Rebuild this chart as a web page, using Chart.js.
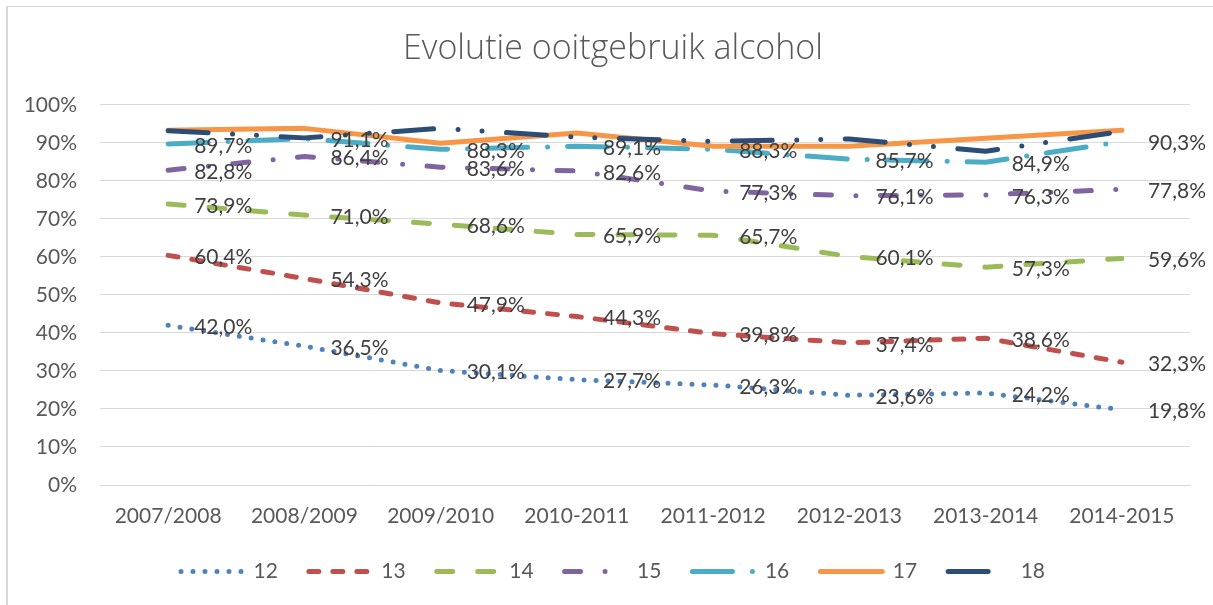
<!DOCTYPE html>
<html>
<head>
<meta charset="utf-8">
<script src="https://cdn.jsdelivr.net/npm/chart.js@4"></script>
<style>
  html, body { margin: 0; padding: 0; background: #fff; }
  #frame { position: absolute; left: 6px; top: 6px; width: 1220px; height: 620px;
           border-left: 2px solid #D9D9D9; border-top: 1px solid #D9D9D9; }
  #wrap { position: absolute; left: 0; top: 0; width: 1213px; height: 605px; }
</style>
</head>
<body>
<div id="frame"></div>
<div id="wrap"><canvas id="chart" width="1213" height="605"></canvas></div>
<script>
// schooljaren
const years = ['2007/2008', '2008/2009', '2009/2010', '2010-2011', '2011-2012', '2012-2013', '2013-2014', '2014-2015'];

// ooitgebruik alcohol per leeftijd (%)
const age12 = [42.0, 36.5, 30.1, 27.7, 26.3, 23.6, 24.2, 19.8];
const age13 = [60.4, 54.3, 47.9, 44.3, 39.8, 37.4, 38.6, 32.3];
const age14 = [73.9, 71.0, 68.6, 65.9, 65.7, 60.1, 57.3, 59.6];
const age15 = [82.8, 86.4, 83.6, 82.6, 77.3, 76.1, 76.3, 77.8];
const age16 = [89.7, 91.1, 88.3, 89.1, 88.3, 85.7, 84.9, 90.3];
const age17 = [93.3, 93.8, 89.9, 92.6, 89.1, 89.1, 91.2, 93.3];
const age18 = [93.2, 91.3, 93.8, 91.5, 90.4, 91.0, 87.8, 93.0];

const seriesNames = ['12', '13', '14', '15', '16', '17', '18'];
const yTicks = [0, 10, 20, 30, 40, 50, 60, 70, 80, 90, 100];

const FONT = 'Lato, "Open Sans", sans-serif';
const W = 5;

const styles = [
  { color: '#4F81BD', dash: [0, 12] },
  { color: '#C0504D', dash: [10, 14] },
  { color: '#9BBB59', dash: [16, 25] },
  { color: '#8064A2', dash: [16, 24.5, 0, 24.5] },
  { color: '#4BACC6', dash: [40, 20, 0, 20] },
  { color: '#F79646', dash: [] },
  { color: '#2C4D75', dash: [40, 24.5, 0, 24, 0, 24.5] }
];
const allSeries = [age12, age13, age14, age15, age16, age17, age18];

const datasets = allSeries.map((vals, i) => ({
  label: seriesNames[i],
  data: vals,
  borderColor: styles[i].color,
  backgroundColor: styles[i].color,
  borderWidth: W,
  borderDash: styles[i].dash,
  borderCapStyle: 'round',
  borderJoinStyle: 'round',
  pointRadius: 0,
  pointHoverRadius: 0,
  tension: 0,
  fill: false,
  order: 10 - i
}));

// labels only for 12 t/m 16
const labelled = [0, 1, 2, 3, 4];

const valueLabels = {
  id: 'valueLabels',
  afterDatasetsDraw(chart) {
    const ctx = chart.ctx;
    ctx.save();
    ctx.font = '21px ' + FONT;
    ctx.fillStyle = '#404040';
    ctx.textAlign = 'left';
    ctx.textBaseline = 'middle';
    labelled.forEach(di => {
      const meta = chart.getDatasetMeta(di);
      meta.data.forEach((pt, j) => {
        const v = chart.data.datasets[di].data[j];
        ctx.fillText(v.toFixed(1).replace('.', ',') + '%', pt.x + 26, pt.y + 2);
      });
    });
    ctx.restore();
  }
};

new Chart(document.getElementById('chart'), {
  type: 'line',
  data: { labels: years, datasets: datasets },
  plugins: [valueLabels],
  options: {
    responsive: false,
    animation: false,
    events: [],
    layout: { padding: { left: 13, right: 0, top: 0, bottom: 13 } },
    plugins: {
      tooltip: { enabled: false },
      title: {
        display: true,
        text: 'Evolutie ooitgebruik alcohol',
        color: '#595959',
        font: { family: '"Open Sans", sans-serif', size: 34, weight: 300 },
        padding: { top: 29, bottom: 35 }
      },
      legend: {
        display: true,
        position: 'bottom',
        labels: {
          usePointStyle: true,
          pointStyleWidth: 62,
          boxHeight: 10,
          padding: 31,
          color: '#595959',
          font: { family: FONT, size: 21 },
          generateLabels: chart => chart.data.datasets.map((ds, i) => ({
            text: ds.label,
            fillStyle: ds.borderColor,
            strokeStyle: ds.borderColor,
            lineWidth: W,
            lineDash: ds.borderDash,
            lineCap: 'round',
            pointStyle: 'line',
            fontColor: '#595959',
            hidden: false,
            datasetIndex: i
          }))
        }
      }
    },
    scales: {
      x: {
        offset: true,
        grid: { display: false },
        border: { display: true, color: '#D9D9D9' },
        ticks: { color: '#595959', font: { family: FONT, size: 21 }, padding: 11, maxRotation: 0 },
        afterFit: s => { s.height = 45; }
      },
      y: {
        min: 0,
        max: 100,
        afterBuildTicks: s => { s.ticks = yTicks.map(v => ({ value: v })); },
        grid: { color: '#D9D9D9', lineWidth: 1, drawTicks: false },
        border: { display: false },
        ticks: { color: '#595959', font: { family: FONT, size: 21 }, padding: 23, callback: v => v + '%' },
        afterFit: s => { s.width = 87; }
      },
      y2: {
        position: 'right',
        min: 0,
        max: 100,
        grid: { display: false },
        border: { display: false },
        ticks: { display: false },
        afterFit: s => { s.width = 23; }
      }
    }
  }
});
</script>
</body>
</html>
